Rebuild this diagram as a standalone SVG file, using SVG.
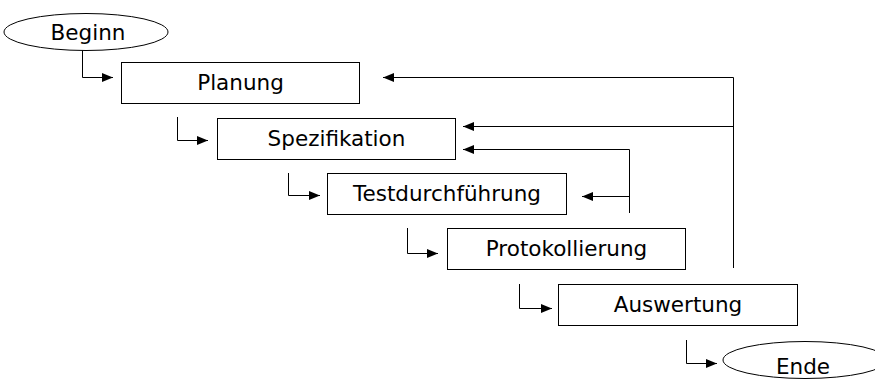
<svg xmlns="http://www.w3.org/2000/svg" width="875" height="379" viewBox="0 0 875 379">
<defs>
<marker id="ah" markerUnits="userSpaceOnUse" markerWidth="12" markerHeight="10" refX="11" refY="4.5" orient="auto">
<path d="M0,0 L11,4.5 L0,9 z" fill="#000"/>
</marker>
<style>
.box{fill:#fff;stroke:#000;stroke-width:1}
.lbl{font-family:"DejaVu Sans",Verdana,sans-serif;font-size:21.5px;fill:#000;text-anchor:middle}
.ln{fill:none;stroke:#000;stroke-width:1}
.ar{marker-end:url(#ah)}
</style>
</defs>
<rect width="875" height="379" fill="#fff"/>
<g id="connectors">
<path class="ln ar" d="M82.5,50 V77.5 H113"/>
<path class="ln ar" d="M177.5,117 V140.5 H208"/>
<path class="ln ar" d="M288.5,173 V195.5 H320"/>
<path class="ln ar" d="M407.5,228 V253.5 H438"/>
<path class="ln ar" d="M519.5,284 V308.5 H552"/>
<path class="ln ar" d="M686.5,340 V363.5 H717"/>
<path class="ln" d="M733.5,268 V77.5"/>
<path class="ln ar" d="M733.5,77.5 H383"/>
<path class="ln ar" d="M733.5,126.5 H463"/>
<path class="ln" d="M629.5,213 V149.5"/>
<path class="ln ar" d="M629.5,149.5 H463"/>
<path class="ln ar" d="M629.5,196.5 H582"/>
</g>
<g id="beginn">
<ellipse cx="86" cy="32" rx="82" ry="18.5" class="box"/>
<text x="88" y="40" class="lbl">Beginn</text>
</g>
<g id="planung">
<rect x="121.5" y="62.5" width="238" height="41" class="box"/>
<text x="240.5" y="90" class="lbl">Planung</text>
</g>
<g id="spezifikation">
<rect x="217.5" y="118.5" width="238" height="41" class="box"/>
<text x="336.5" y="146" class="lbl">Spezifikation</text>
</g>
<g id="testdurchfuehrung">
<rect x="327.5" y="173.5" width="239" height="41" class="box"/>
<text x="447" y="201" class="lbl">Testdurchführung</text>
</g>
<g id="protokollierung">
<rect x="447.5" y="228.5" width="238" height="41" class="box"/>
<text x="566.5" y="256" class="lbl">Protokollierung</text>
</g>
<g id="auswertung">
<rect x="558.5" y="284.5" width="239" height="41" class="box"/>
<text x="678" y="312" class="lbl">Auswertung</text>
</g>
<g id="ende">
<ellipse cx="805" cy="360" rx="82" ry="18.5" class="box"/>
<text x="803" y="374" class="lbl">Ende</text>
</g>
</svg>
